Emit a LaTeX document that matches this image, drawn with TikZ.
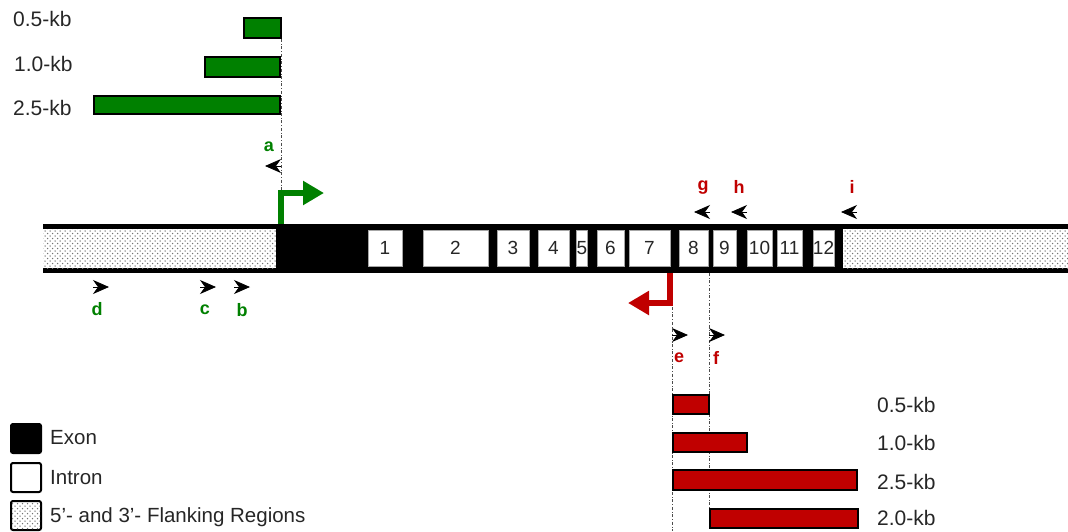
\documentclass[tikz,border=0pt]{standalone}
\usepackage{fontspec}
\setmainfont{Liberation Sans}
\usetikzlibrary{arrows.meta,patterns}
\definecolor{gGreen}{RGB}{0,128,0}
\definecolor{gRed}{RGB}{192,0,0}
\pgfdeclarepatternformonly{stipple}{\pgfqpoint{-1pt}{-1pt}}{\pgfqpoint{4pt}{4pt}}{\pgfqpoint{5pt}{5pt}}{
  \pgfpathcircle{\pgfqpoint{0pt}{0pt}}{0.75pt}
  \pgfpathcircle{\pgfqpoint{2.5pt}{2.5pt}}{0.75pt}
  \pgfusepath{fill}}
\tikzset{
  kblabel/.style={anchor=west,inner sep=0pt,font=\fontsize{21}{22}\selectfont,text=black!85},
  leglabel/.style={anchor=west,inner sep=0pt,font=\fontsize{20.5}{22}\selectfont,text=black!85},
  intron/.style={draw=gray!70,line width=0.6pt,fill=white,minimum height=36pt,inner sep=0pt,font=\fontsize{19}{20}\selectfont,text=black!85},
  plab/.style={inner sep=0pt,font=\bfseries\fontsize{18}{20}\selectfont},
  gbar/.style={draw=black,line width=2pt,fill=gGreen},
  rbar/.style={draw=black,line width=2pt,fill=gRed},
  primer/.style={-{Stealth[length=16pt,width=14pt,inset=5pt]},line width=0.8pt,black},
  guide/.style={dash dot,line width=0.7pt,black!70},
  flank/.style={pattern=stipple,pattern color=black!55},
}
\begin{document}
\begin{tikzpicture}[x=1pt,y=-1pt]
\useasboundingbox (0,0) rectangle (1068,531);
% gene bar
\fill[black] (43,224) rectangle (1068,273);
\fill[white] (43,229) rectangle (276,268);
\fill[flank] (43,229) rectangle (276,268);
\fill[white] (843,229) rectangle (1068,268);
\fill[flank] (843,229) rectangle (1068,268);
% introns
\node[intron,minimum width=34pt] (n1) at (385,248) {1};
\node[intron,minimum width=65pt] (n2) at (455.5,248) {2};
\node[intron,minimum width=32pt] (n3) at (513,248) {3};
\node[intron,minimum width=31pt] (n4) at (553.5,248) {4};
\node[intron,minimum width=10pt] (n5) at (582,248) {5};
\node[intron,minimum width=27pt] (n6) at (610.5,248) {6};
\node[intron,minimum width=41pt] (n7) at (649.5,248) {7};
\node[intron,minimum width=29pt] (n8) at (693.5,248) {8};
\node[intron,minimum width=23pt] (n9) at (724.5,248) {9};
\node[intron,minimum width=25pt] (n10) at (759.5,248) {10};
\node[intron,minimum width=25pt] (n11) at (789.5,248) {11};
\node[intron,minimum width=21pt] (n12) at (823.5,248) {12};
% guide lines
\coordinate (ga0) at (281,39);
\coordinate (ga1) at (281,190);
\draw[guide] (ga0) -- (ga1);
\coordinate (ge0) at (672,307);
\coordinate (ge1) at (672,531);
\draw[guide] (ge0) -- (ge1);
\coordinate (gf0) at (709,273);
\coordinate (gf1) at (709,508);
\draw[guide] (gf0) -- (gf1);
% green bars
\draw[gbar] (244,18) rectangle (281,38);
\draw[gbar] (205,57) rectangle (280,77);
\draw[gbar] (94,96) rectangle (280,114);
\node[kblabel] (k1) at (13,19) {0.5-kb};
\node[kblabel] (k2) at (14,64) {1.0-kb};
\node[kblabel] (k3) at (13,108) {2.5-kb};
% red bars
\draw[rbar] (673,395) rectangle (709,414);
\draw[rbar] (673,433) rectangle (747,452);
\draw[rbar] (673,470) rectangle (857,490);
\draw[rbar] (710,509) rectangle (858,528);
\node[kblabel] (k4) at (877,405) {0.5-kb};
\node[kblabel] (k5) at (877,443) {1.0-kb};
\node[kblabel] (k6) at (877,482) {2.5-kb};
\node[kblabel] (k7) at (877,518) {2.0-kb};
% promoter arrows
\coordinate (tssG) at (281,224);
\coordinate (tipG) at (324,193);
\draw[gGreen,line width=6.5pt,-{Triangle[length=21pt,width=23pt]}] (tssG) |- (tipG);
\coordinate (tssR) at (670,273);
\coordinate (tipR) at (628,303);
\draw[gRed,line width=6.5pt,-{Triangle[length=21pt,width=23pt]}] (tssR) |- (tipR);
% primers
\coordinate (pa0) at (281,166); \coordinate (pa1) at (265,166);
\draw[primer] (pa0) -- (pa1);
\node[plab,text=gGreen] (la) at (269,147) {a};
\coordinate (pd0) at (93,287); \coordinate (pd1) at (109,287);
\draw[primer] (pd0) -- (pd1);
\node[plab,text=gGreen] (ld) at (97,309) {d};
\coordinate (pc0) at (200,287); \coordinate (pc1) at (216,287);
\draw[primer] (pc0) -- (pc1);
\node[plab,text=gGreen] (lc) at (205,310) {c};
\coordinate (pb0) at (234,287); \coordinate (pb1) at (250,287);
\draw[primer] (pb0) -- (pb1);
\node[plab,text=gGreen] (lb) at (242,310) {b};
\coordinate (pg0) at (710,212); \coordinate (pg1) at (694,212);
\draw[primer] (pg0) -- (pg1);
\node[plab,text=gRed] (lg) at (703,188) {g};
\coordinate (ph0) at (747,212); \coordinate (ph1) at (731,212);
\draw[primer] (ph0) -- (ph1);
\node[plab,text=gRed] (lh) at (739,187) {h};
\coordinate (pi0) at (857,212); \coordinate (pi1) at (841,212);
\draw[primer] (pi0) -- (pi1);
\node[plab,text=gRed] (li) at (852,187) {i};
\coordinate (pe0) at (672,335); \coordinate (pe1) at (688,335);
\draw[primer] (pe0) -- (pe1);
\node[plab,text=gRed] (le) at (679,358) {e};
\coordinate (pf0) at (709,335); \coordinate (pf1) at (725,335);
\draw[primer] (pf0) -- (pf1);
\node[plab,text=gRed] (lf) at (716,358) {f};
% legend
\draw[line width=2pt,rounded corners=2pt,fill=black] (11,424) rectangle (41,453);
\draw[line width=2pt,rounded corners=2pt,fill=white] (11,463) rectangle (41,492);
\draw[line width=2pt,rounded corners=2pt,fill=white] (11,501) rectangle (41,530);
\fill[flank] (12,502) rectangle (40,529);
\node[leglabel] (l1) at (50,438) {Exon};
\node[leglabel] (l2) at (50,478) {Intron};
\node[leglabel] (l3) at (50,517) {5’- and 3’- Flanking Regions};
\end{tikzpicture}
\end{document}
